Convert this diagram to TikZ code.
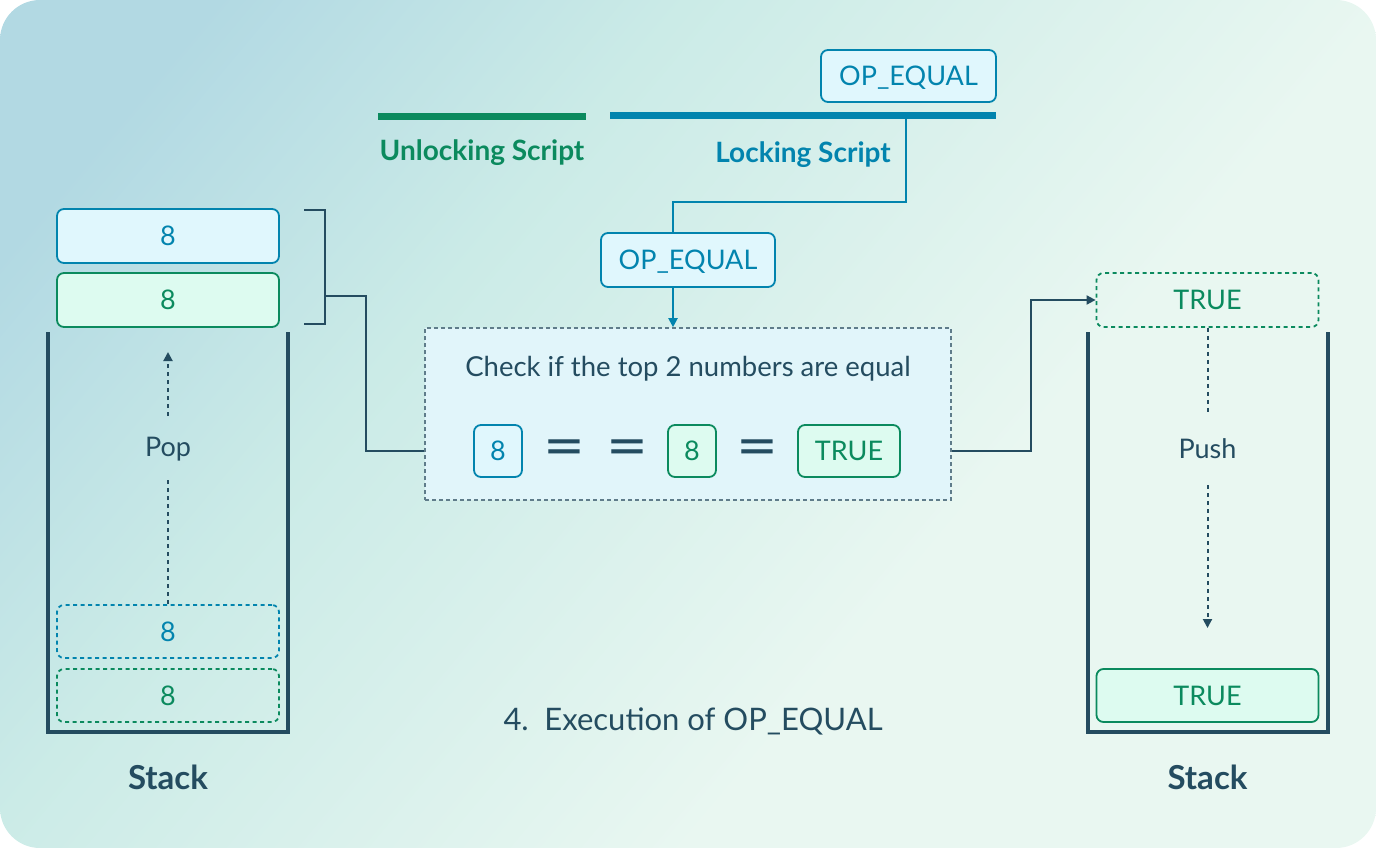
\documentclass[tikz,border=0pt]{standalone}
\usepackage{fontspec}
\setmainfont{Lato}
\newfontfamily\eqfont{DejaVu Sans}
\usetikzlibrary{arrows.meta,calc}
\definecolor{slate}{HTML}{244C60}
\definecolor{bluec}{HTML}{0284AE}
\definecolor{greenc}{HTML}{0B8A5E}
\definecolor{lblue}{HTML}{E0F7FD}
\definecolor{lgreen}{HTML}{DDFBF0}
\definecolor{chkfill}{HTML}{E1F5FA}
\definecolor{chkdraw}{HTML}{5F7C8A}
\definecolor{bgA}{HTML}{B2D9E3}
\definecolor{bgM}{HTML}{CBEBE7}
\definecolor{bgB}{HTML}{E9F7F1}
\pgfdeclarehorizontalshading{bgshade}{100bp}{color(0bp)=(bgA); color(22bp)=(bgA); color(38bp)=(bgM); color(62bp)=(bgB); color(100bp)=(bgB)}
\tikzset{
  txt/.style={font=\fontsize{27}{32}\selectfont},
  boxbase/.style={rounded corners=7pt, line width=1.8pt, inner sep=0pt, minimum height=54pt, txt, text depth=0pt},
  bluebox/.style={boxbase, draw=bluec, fill=lblue, text=bluec},
  greenbox/.style={boxbase, draw=greenc, fill=lgreen, text=greenc},
  bluedash/.style={boxbase, draw=bluec, text=bluec, dash pattern=on 4pt off 3.5pt},
  greendash/.style={boxbase, draw=greenc, text=greenc, dash pattern=on 4pt off 3.5pt},
  wall/.style={draw=slate, line width=4pt},
  conn/.style={draw=slate, line width=1.8pt},
  bconn/.style={draw=bluec, line width=2pt},
  tip/.style={-{Triangle[length=9pt,width=9pt]}},
  dotline/.style={draw=slate, line width=2pt, dash pattern=on 4pt off 4pt},
  eqsign/.style={font=\eqfont\fontsize{50}{50}\selectfont, text=slate, inner sep=0pt},
  boldlbl/.style={font=\bfseries\fontsize{28}{32}\selectfont},
  stacklbl/.style={font=\bfseries\fontsize{33}{38}\selectfont, text=slate},
}
\begin{document}
\begin{tikzpicture}[x=1pt,y=-1pt]
\useasboundingbox (0,0) rectangle (1376,848);
\shade[rounded corners=40pt, shading=bgshade, shading angle=-40] (0,0) rectangle (1376,848);

% top script bars
\draw[greenc, line width=7pt] (378,117) coordinate (ul) -- (586,117) coordinate (ur);
\draw[bluec, line width=7pt] (610,116) coordinate (ll) -- (996,116) coordinate (lr);
\coordinate (lk) at (906,116);
\node[boldlbl, text=greenc] (unl) at (482,153) {Unlocking Script};
\node[boldlbl, text=bluec] (lck) at (803,155) {Locking Script};
\node[bluebox, minimum width=175pt, minimum height=52pt] (optop) at (908.5,76) {OP\_EQUAL};

% middle op
\node[bluebox, minimum width=174pt] (opmid) at (688,260) {OP\_EQUAL};
\draw[bconn] (lk) -- ++(0,86) -| ([xshift=-15pt]opmid.north);

% check box
\node[draw=chkdraw, fill=chkfill, line width=1.6pt, dash pattern=on 4pt off 3pt, minimum width=526pt, minimum height=172pt, inner sep=0pt] (check) at (688,414) {};
\draw[bconn, tip] ([xshift=-15pt]opmid.south) -- ([xshift=-15pt]opmid.south |- check.north);
\node[font=\fontsize{27.5}{32}\selectfont, text=slate] (chktxt) at (688,369) {Check if the top 2 numbers are equal};
\node[bluebox, minimum width=48pt, minimum height=52pt] (ra) at (498,451) {8};
\node[eqsign] (e1) at (564,451) {=};
\node[eqsign] (e2) at (627,451) {=};
\node[greenbox, minimum width=48pt, minimum height=52pt] (rb) at (692,451) {8};
\node[eqsign] (e3) at (757,451) {=};
\node[greenbox, minimum width=102pt, minimum height=52pt] (rt) at (849,451) {TRUE};

% left stack
\node[bluebox, minimum width=222pt] (s1) at (168,236) {8};
\node[greenbox, minimum width=222pt] (s2) at (168,300) {8};
\node[bluedash, minimum width=222pt, minimum height=53pt] (s3) at (168,631.5) {8};
\node[greendash, minimum width=222pt, minimum height=53pt] (s4) at (168,695.5) {8};
\draw[wall] (48,332) -- (48,732) -- (288,732) -- (288,332);
\node[txt, text=slate] (pop) at (168,449) {Pop};
\draw[dotline] (s3.north) -- ++(0,-124);
\draw[dotline, tip] (168,416) -- (168,352);
\node[stacklbl] (stl) at (168,777) {Stack};
% bracket
\draw[conn] (304,210) -- (325,210) -- (325,324) -- (304,324);
\coordinate (brk) at (325,296);
\draw[conn] (brk) -- ++(41,0) |- (check.west |- ra);

% right stack
\node[greendash, minimum width=222pt] (t1) at (1207.5,300) {TRUE};
\node[greenbox, minimum width=222pt, minimum height=53pt] (t2) at (1207.5,695.5) {TRUE};
\draw[wall] (1088,332) -- (1088,732) -- (1328,732) -- (1328,332);
\node[txt, text=slate] (push) at (1207.5,449) {Push};
\draw[dotline] (t1.south) -- (1207.5,415);
\draw[dotline, tip] (1207.5,485) -- (1207.5,628);
\node[stacklbl] (str) at (1207.5,777) {Stack};
\draw[conn, tip] (check.east |- rt) -- ++(79,0) |- (t1.west);

% caption
\node[font=\fontsize{31}{36}\selectfont, text=slate] (cap) at (693,721) {4.\hspace{5pt} Execution of OP\_EQUAL};
\end{tikzpicture}
\end{document}
